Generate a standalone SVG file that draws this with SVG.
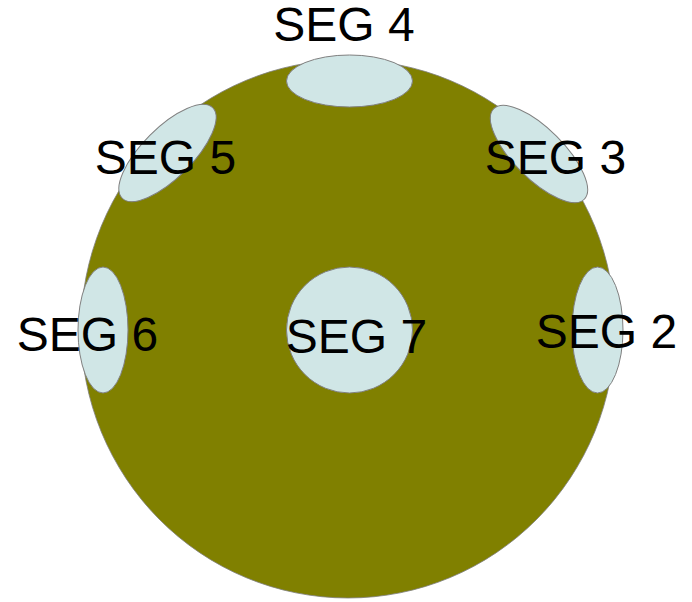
<svg xmlns="http://www.w3.org/2000/svg" width="692" height="602" viewBox="0 0 692 602">
  <style>
    .disc { fill: #808000; stroke: #7f7f7f; stroke-width: 0.8; }
    .seg { fill: #d0e6e6; stroke: #808080; stroke-width: 1; }
    .lbl { font-family: "Liberation Sans", Arial, sans-serif; font-size: 48px; fill: #000; text-anchor: middle; }
  </style>
  <rect width="692" height="602" fill="#fff"/>
  <g id="body">
    <ellipse class="disc" cx="348" cy="329" rx="267" ry="269"/>
  </g>
  <g id="seg4">
    <ellipse class="seg" cx="349.5" cy="81" rx="63" ry="26"/>
    <text class="lbl" x="344" y="41">SEG 4</text>
  </g>
  <g id="seg5">
    <ellipse class="seg" cx="167.5" cy="153" rx="64" ry="25" transform="rotate(-45 167.5 153)"/>
    <text class="lbl" x="165.5" y="174">SEG 5</text>
  </g>
  <g id="seg3">
    <ellipse class="seg" cx="539" cy="154" rx="64" ry="25" transform="rotate(45 539 154)"/>
    <text class="lbl" x="555.5" y="174">SEG 3</text>
  </g>
  <g id="seg6">
    <ellipse class="seg" cx="103" cy="330" rx="25" ry="63"/>
    <text class="lbl" x="87.5" y="351">SEG 6</text>
  </g>
  <g id="seg2">
    <ellipse class="seg" cx="597.5" cy="330" rx="25.5" ry="63"/>
    <text class="lbl" x="606.5" y="348">SEG 2</text>
  </g>
  <g id="seg7">
    <circle class="seg" cx="349.5" cy="330" r="63"/>
    <text class="lbl" x="356.5" y="353">SEG 7</text>
  </g>
  <g id="connectors"/>
</svg>
